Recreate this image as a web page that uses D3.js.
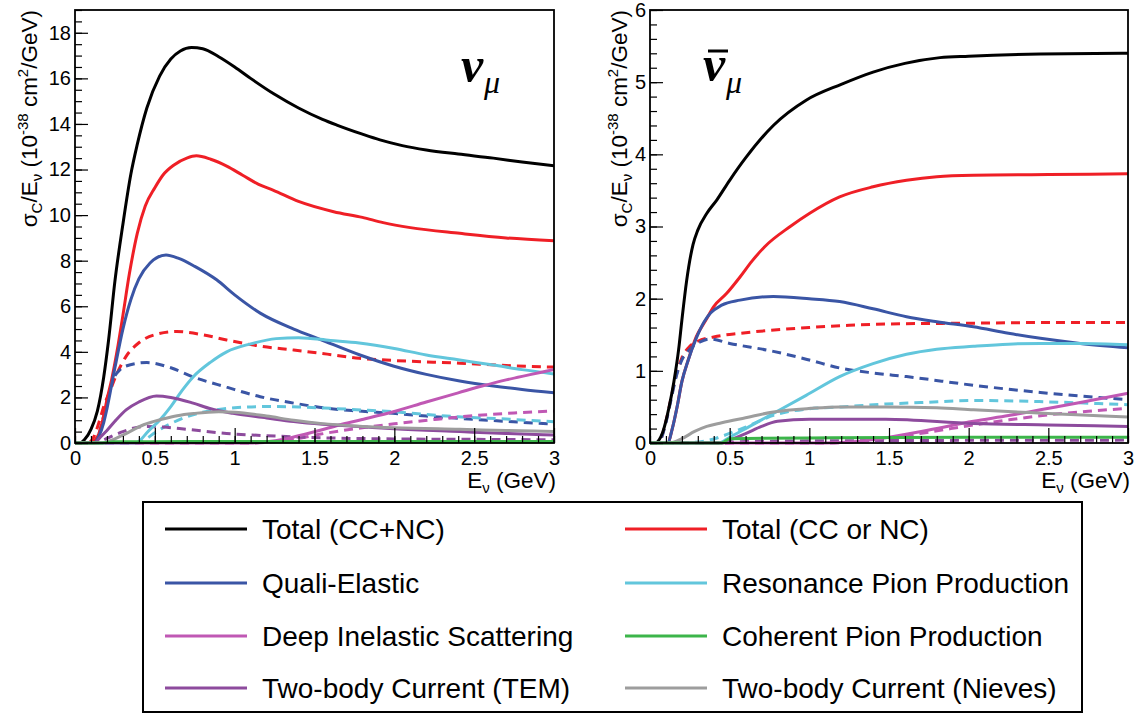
<!DOCTYPE html>
<html><head><meta charset="utf-8">
<script src="https://cdn.jsdelivr.net/npm/d3@7"></script>
<style>
body{margin:0;background:#fff;}
svg{display:block;}
text{font-family:"Liberation Sans",Arial,Helvetica,sans-serif;fill:#000;}
</style></head>
<body>
<svg id="chart" width="1141" height="715"></svg>
<script>
// ---------- tick labels ----------
const xTickLabels = ["0","0.5","1","1.5","2","2.5","3"];
const xMajorTicks = [0,0.5,1,1.5,2,2.5,3];
const yTicksNu = [0,2,4,6,8,10,12,14,16,18];
const yTicksAnti = [0,1,2,3,4,5,6];

// ---------- legend categories ----------
const legendLabels = ["Total (CC+NC)","Total (CC or NC)","Quali-Elastic","Resonance Pion Production",
  "Deep Inelastic Scattering","Coherent Pion Production","Two-body Current (TEM)","Two-body Current (Nieves)"];
const legendKeys = ["total","totalCh","qe","res","dis","coh","tem","nieves"];

// ---------- nu_mu series : [E (GeV), sigma/E] ----------
const nuTotal = [[0,0],[0.03,0],[0.06,0.15],[0.1,0.6],[0.14,1.4],[0.18,2.9],[0.21,4.5],[0.25,7.1],[0.3,9.6],[0.35,11.8],[0.39,13.1],[0.45,14.7],[0.53,16.1],[0.6,16.85],[0.66,17.2],[0.73,17.35],[0.8,17.3],[0.9,16.95],[1.0,16.5],[1.1,16.0],[1.25,15.3],[1.4,14.7],[1.55,14.2],[1.64,13.95],[1.8,13.55],[1.91,13.3],[2.05,13.05],[2.2,12.86],[2.4,12.68],[2.62,12.5],[2.8,12.33],[3.0,12.16]];
const nuTotalCh = [[0,0],[0.1,0],[0.12,0.1],[0.15,0.4],[0.18,1.2],[0.2,1.9],[0.23,2.8],[0.27,4.3],[0.3,5.6],[0.34,7.4],[0.39,9.2],[0.44,10.4],[0.5,11.2],[0.55,11.75],[0.62,12.2],[0.7,12.5],[0.76,12.6],[0.85,12.45],[0.95,12.15],[1.05,11.75],[1.15,11.35],[1.24,11.1],[1.4,10.6],[1.62,10.15],[1.8,9.9],[1.93,9.67],[2.1,9.45],[2.41,9.2],[2.7,9.0],[3.0,8.88]];
const nuTotalChD = [[0,0],[0.08,0],[0.12,0.3],[0.15,0.9],[0.18,1.6],[0.22,2.3],[0.26,3.0],[0.32,3.8],[0.4,4.4],[0.5,4.75],[0.637,4.89],[0.8,4.75],[0.95,4.52],[1.16,4.25],[1.37,4.08],[1.58,3.9],[1.78,3.72],[2.0,3.62],[2.41,3.5],[2.7,3.4],[3.0,3.33]];
const nuQE = [[0,0],[0.12,0],[0.15,0.3],[0.18,0.9],[0.2,1.5],[0.25,3.3],[0.3,5.0],[0.35,6.3],[0.4,7.2],[0.47,7.9],[0.57,8.25],[0.65,8.1],[0.75,7.75],[0.887,7.16],[1.0,6.5],[1.16,5.7],[1.37,5.0],[1.534,4.55],[1.785,3.86],[1.993,3.38],[2.2,3.01],[2.41,2.72],[2.62,2.5],[2.8,2.35],[3.0,2.21]];
const nuQED = [[0,0],[0.12,0],[0.15,0.4],[0.18,1.2],[0.21,2.1],[0.24,2.8],[0.28,3.2],[0.32,3.38],[0.45,3.53],[0.6,3.3],[0.74,2.9],[0.95,2.45],[1.16,2.03],[1.37,1.75],[1.58,1.52],[1.78,1.4],[1.99,1.3],[2.2,1.18],[2.41,1.08],[2.7,0.95],[3.0,0.83]];
const nuRes = [[0,0],[0.38,0],[0.41,0.13],[0.45,0.45],[0.53,1.0],[0.6,1.6],[0.67,2.3],[0.74,2.9],[0.85,3.55],[0.95,4.0],[1.1,4.35],[1.26,4.58],[1.4,4.62],[1.6,4.5],[1.78,4.39],[2.0,4.15],[2.2,3.86],[2.4,3.65],[2.62,3.42],[2.8,3.22],[3.0,3.03]];
const nuResD = [[0,0],[0.4,0],[0.45,0.2],[0.5,0.45],[0.6,0.85],[0.7,1.15],[0.8,1.35],[0.9,1.47],[1.0,1.55],[1.2,1.6],[1.4,1.58],[1.6,1.52],[1.8,1.45],[2.0,1.37],[2.2,1.25],[2.4,1.15],[2.7,1.05],[3.0,0.93]];
const nuDIS = [[0,0],[1.1,0],[1.2,0.05],[1.3,0.15],[1.4,0.32],[1.53,0.55],[1.65,0.78],[1.78,1.0],[2.0,1.38],[2.2,1.8],[2.4,2.2],[2.55,2.5],[2.7,2.77],[2.85,3.0],[3.0,3.23]];
const nuDISD = [[0,0],[1.1,0],[1.25,0.06],[1.4,0.2],[1.53,0.38],[1.75,0.62],[2.0,0.84],[2.25,1.03],[2.5,1.2],[2.75,1.32],[3.0,1.4]];
const nuCoh = [[0,0],[0.15,0],[0.25,0.05],[0.5,0.06],[1,0.07],[2,0.07],[3,0.07]];
const nuTEM = [[0,0],[0.12,0],[0.16,0.27],[0.2,0.55],[0.25,0.95],[0.32,1.45],[0.4,1.8],[0.51,2.06],[0.6,2.0],[0.74,1.75],[0.85,1.5],[0.99,1.3],[1.2,1.1],[1.37,0.94],[1.55,0.82],[1.78,0.72],[2.0,0.62],[2.41,0.5],[2.7,0.42],[3.0,0.35]];
const nuTEMD = [[0,0],[0.13,0],[0.2,0.2],[0.3,0.5],[0.43,0.72],[0.55,0.7],[0.7,0.6],[0.95,0.42],[1.2,0.32],[1.37,0.27],[1.6,0.22],[2.0,0.18],[2.5,0.16],[3.0,0.14]];
const nuNieves = [[0,0],[0.15,0],[0.2,0.05],[0.3,0.35],[0.43,0.8],[0.55,1.05],[0.64,1.2],[0.75,1.3],[0.9,1.37],[1.0,1.35],[1.2,1.18],[1.37,1.0],[1.55,0.85],[1.78,0.74],[2.0,0.67],[2.41,0.6],[2.7,0.55],[3.0,0.5]];

// ---------- anti nu_mu series ----------
const anTotal = [[0,0],[0.03,0],[0.08,0.15],[0.12,0.5],[0.15,0.85],[0.18,1.3],[0.2,1.7],[0.23,2.25],[0.27,2.75],[0.3,2.95],[0.356,3.18],[0.42,3.37],[0.5,3.64],[0.6,3.95],[0.774,4.4],[0.98,4.75],[1.2,4.97],[1.4,5.14],[1.6,5.26],[1.82,5.34],[2.0,5.36],[2.45,5.39],[3.0,5.4]];
const anTotalCh = [[0,0],[0.11,0],[0.14,0.2],[0.17,0.5],[0.2,0.85],[0.24,1.15],[0.29,1.47],[0.35,1.7],[0.4,1.89],[0.48,2.07],[0.565,2.3],[0.64,2.52],[0.72,2.72],[0.88,3.0],[1.0,3.18],[1.19,3.41],[1.4,3.55],[1.61,3.64],[1.8,3.69],[2.03,3.71],[2.5,3.72],[3.0,3.73]];
const anTotalChD = [[0,0],[0.05,0],[0.1,0.3],[0.13,0.6],[0.16,0.9],[0.2,1.18],[0.25,1.34],[0.3,1.41],[0.4,1.47],[0.565,1.52],[0.75,1.56],[1.0,1.6],[1.25,1.63],[1.5,1.65],[2.0,1.66],[2.5,1.67],[3.0,1.67]];
const anQE = [[0,0],[0.11,0],[0.14,0.2],[0.17,0.5],[0.2,0.85],[0.24,1.15],[0.29,1.45],[0.34,1.68],[0.38,1.8],[0.45,1.91],[0.565,1.98],[0.774,2.03],[1.0,2.0],[1.19,1.96],[1.4,1.86],[1.61,1.75],[1.8,1.68],[2.03,1.61],[2.25,1.52],[2.45,1.45],[2.7,1.38],[3.0,1.32]];
const anQED = [[0,0],[0.05,0],[0.1,0.28],[0.13,0.58],[0.16,0.88],[0.2,1.15],[0.25,1.3],[0.314,1.4],[0.377,1.44],[0.5,1.38],[0.774,1.27],[1.0,1.15],[1.19,1.04],[1.4,0.97],[1.61,0.92],[2.03,0.8],[2.45,0.7],[3.0,0.6]];
const anRes = [[0,0],[0.43,0],[0.5,0.08],[0.6,0.2],[0.774,0.41],[0.98,0.66],[1.19,0.92],[1.4,1.1],[1.61,1.23],[1.8,1.3],[2.03,1.34],[2.25,1.37],[2.45,1.38],[2.7,1.38],[3.0,1.36]];
const anResD = [[0,0],[0.2,0],[0.35,0.03],[0.46,0.1],[0.53,0.16],[0.6,0.22],[0.785,0.39],[0.98,0.47],[1.2,0.5],[1.48,0.54],[1.7,0.56],[2.03,0.59],[2.5,0.57],[3.0,0.53]];
const anDIS = [[0,0],[1.1,0],[1.3,0.02],[1.5,0.08],[1.75,0.18],[2.03,0.3],[2.25,0.38],[2.45,0.46],[2.7,0.56],[3.0,0.69]];
const anDISD = [[0,0],[1.1,0],[1.3,0.02],[1.5,0.07],[1.75,0.15],[2.03,0.25],[2.25,0.32],[2.5,0.39],[2.75,0.44],[3.0,0.48]];
const anCoh = [[0,0],[0.45,0],[0.5,0.06],[1,0.07],[2,0.08],[3,0.08]];
const anTEM = [[0,0],[0.45,0],[0.5,0.04],[0.6,0.13],[0.7,0.23],[0.8,0.3],[1.0,0.33],[1.48,0.33],[2.03,0.27],[2.5,0.25],[3.0,0.23]];
const anTEMD = [[0,0],[0.45,0],[0.6,0.02],[1,0.03],[3,0.04]];
const anNieves = [[0,0],[0.12,0],[0.2,0.06],[0.28,0.16],[0.356,0.23],[0.45,0.28],[0.6,0.35],[0.774,0.43],[1.01,0.48],[1.19,0.5],[1.48,0.5],[1.8,0.49],[2.03,0.46],[2.5,0.41],[3.0,0.36]];

// ---------- styling ----------
const colors = {total:"#000000",totalCh:"#ef1f26",qe:"#3a55a5",res:"#62c6dc",dis:"#c058b4",coh:"#3cb54a",tem:"#8d4b9d",nieves:"#9d9d9d"};

const panels = [
  {left:75,right:554,ymax:19,yTicks:yTicksNu,yMinorStep:0.5,titleX:37,
   dashed:[["totalCh",nuTotalChD],["qe",nuQED],["res",nuResD],["dis",nuDISD],["tem",nuTEMD]],
   solid:[["total",nuTotal],["totalCh",nuTotalCh],["qe",nuQE],["res",nuRes],["dis",nuDIS],["tem",nuTEM],["nieves",nuNieves],["coh",nuCoh]],
   anti:false},
  {left:650,right:1128,ymax:6,yTicks:yTicksAnti,yMinorStep:0.2,titleX:627,
   dashed:[["totalCh",anTotalChD],["qe",anQED],["res",anResD],["dis",anDISD],["tem",anTEMD]],
   solid:[["total",anTotal],["totalCh",anTotalCh],["qe",anQE],["res",anRes],["dis",anDIS],["tem",anTEM],["nieves",anNieves],["coh",anCoh]],
   anti:true}
];
const plotTop = 10, plotBottom = 443;
const svg = d3.select("#chart");

panels.forEach((p,i)=>{
  const x = d3.scaleLinear().domain([0,3]).range([p.left,p.right]);
  const y = d3.scaleLinear().domain([0,p.ymax]).range([plotBottom,plotTop]);
  const g = svg.append("g");
  const clipId = "clip"+i;
  svg.append("clipPath").attr("id",clipId).append("rect")
    .attr("x",p.left).attr("y",plotTop).attr("width",p.right-p.left).attr("height",plotBottom-plotTop+2);

  const line = d3.line().x(d=>x(d[0])).y(d=>y(d[1])).curve(d3.curveMonotoneX);
  const lg = g.append("g").attr("clip-path",`url(#${clipId})`);
  p.dashed.forEach(([k,data])=>{
    lg.append("path").datum(data).attr("d",line).attr("fill","none")
      .attr("stroke",colors[k]).attr("stroke-width",3).attr("stroke-dasharray","9,6");
  });
  p.solid.forEach(([k,data])=>{
    lg.append("path").datum(data).attr("d",line).attr("fill","none")
      .attr("stroke",colors[k]).attr("stroke-width",3);
  });

  // x axis: minor then major
  const xMinor = d3.range(0,3.0001,0.1);
  g.append("g").attr("transform",`translate(0,${plotBottom})`)
    .call(d3.axisBottom(x).tickValues(xMinor).tickSize(-7).tickFormat(""))
    .call(a=>a.select(".domain").remove());
  g.append("g").attr("transform",`translate(0,${plotBottom})`)
    .call(d3.axisBottom(x).tickValues(xMajorTicks).tickSize(-15).tickPadding(6)
      .tickFormat((d,j)=>xTickLabels[j]))
    .call(a=>a.select(".domain").remove())
    .call(a=>a.selectAll("text").attr("font-size",20).attr("font-family","Liberation Sans, Arial, sans-serif").attr("dy","0.78em"));

  // y axis
  const yMinor = d3.range(0,p.ymax+0.0001,p.yMinorStep);
  g.append("g").attr("transform",`translate(${p.left},0)`)
    .call(d3.axisLeft(y).tickValues(yMinor).tickSize(-7).tickFormat(""))
    .call(a=>a.select(".domain").remove());
  g.append("g").attr("transform",`translate(${p.left},0)`)
    .call(d3.axisLeft(y).tickValues(p.yTicks).tickSize(-13).tickPadding(4).tickFormat(d3.format("d")))
    .call(a=>a.select(".domain").remove())
    .call(a=>a.selectAll("text").attr("font-size",20).attr("font-family","Liberation Sans, Arial, sans-serif"));
  g.selectAll(".tick line").attr("stroke","#000").attr("stroke-width",1.2);

  // frame
  g.append("rect").attr("x",p.left).attr("y",plotTop).attr("width",p.right-p.left).attr("height",plotBottom-plotTop)
    .attr("fill","none").attr("stroke","#000").attr("stroke-width",1.8);

  // x title
  const xt = g.append("text").attr("x",p.right+2).attr("y",488).attr("text-anchor","end").attr("font-size",22.5);
  xt.append("tspan").text("E");
  xt.append("tspan").attr("font-size",15).attr("dy",5).text("ν");
  xt.append("tspan").attr("dy",-5).text(" (GeV)");

  // y title
  const yt = g.append("text").attr("transform",`translate(${p.titleX},${plotTop}) rotate(-90)`)
    .attr("text-anchor","end").attr("font-size",22.5);
  yt.append("tspan").text("σ");
  yt.append("tspan").attr("font-size",15).attr("dy",5).text("C");
  yt.append("tspan").attr("dy",-5).text("/E");
  yt.append("tspan").attr("font-size",15).attr("dy",5).text("ν");
  yt.append("tspan").attr("dy",-5).text(" (10");
  yt.append("tspan").attr("font-size",15).attr("dy",-9).text("-38");
  yt.append("tspan").attr("dy",9).text(" cm");
  yt.append("tspan").attr("font-size",15).attr("dy",-9).text("2");
  yt.append("tspan").attr("dy",9).text("/GeV)");

  // particle label
  const nuX = p.anti ? 703 : 461;
  const lab = g.append("g");
  lab.append("text").attr("x",nuX).attr("y",p.anti?81:82).attr("font-size",50).attr("font-style","italic")
    .attr("font-weight","bold")
    .style("font-family","Liberation Serif, Times New Roman, serif").text("ν");
  lab.append("text").attr("x",nuX+23).attr("y",93).attr("font-size",32).attr("font-style","italic")
    .style("font-family","Liberation Serif, Times New Roman, serif").text("μ");
  if(p.anti){
    lab.append("line").attr("x1",nuX+5).attr("x2",nuX+25).attr("y1",51).attr("y2",51)
      .attr("stroke","#000").attr("stroke-width",3);
  }
});

// ---------- legend ----------
const leg = svg.append("g");
leg.append("rect").attr("x",143).attr("y",502).attr("width",939).attr("height",210)
  .attr("fill","#fff").attr("stroke","#000").attr("stroke-width",2);
const rowY = [529,583,636,688];
const colX = [165,625];
legendLabels.forEach((lbl,i)=>{
  const c = i%2, r = Math.floor(i/2);
  leg.append("line").attr("x1",colX[c]).attr("x2",colX[c]+82).attr("y1",rowY[r]).attr("y2",rowY[r])
    .attr("stroke",colors[legendKeys[i]]).attr("stroke-width",3);
  leg.append("text").attr("x",colX[c]+97).attr("y",rowY[r]+10).attr("font-size",28).text(lbl);
});
</script>
</body></html>
